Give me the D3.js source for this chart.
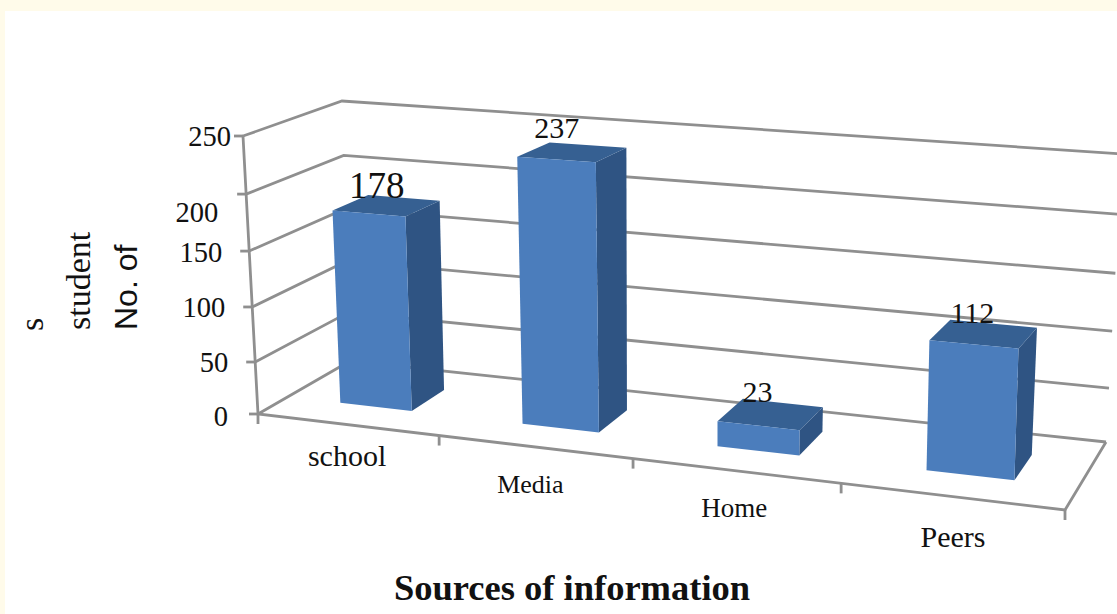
<!DOCTYPE html>
<html>
<head>
<meta charset="utf-8">
<script src="https://cdn.jsdelivr.net/npm/d3@7"></script>
<style>
  html, body { margin: 0; padding: 0; background: #fffbea; }
  svg { display: block; }
  text { font-family: "Liberation Serif", "Times New Roman", serif; fill: #111; }
</style>
</head>
<body>
<svg id="chart" width="1117" height="614"></svg>
<script>
// Chart data
const categories = ["school", "Media", "Home", "Peers"];
const counts = [178, 237, 23, 112];
const valueTicks = [0, 50, 100, 150, 200, 250];
const axisTitle = "Sources of information";
const valueTitleParts = ["No. of", "student", "s"];

// Plot box on screen: floor corners, plus wall height and lean at each corner
const floorQuad = { fl: [258, 414], fr: [1065, 510], bl: [350, 361], br: [1106, 442] };
const wallRise = { fl: 278, fr: 316, bl: 260, br: 288 };
const wallLean = { fl: -15, fr: 9, bl: -8, br: 16 };
// Fraction of the wall height reached at each value tick; spacing widens upward
const tickFractions = [0, 0.187, 0.385, 0.586, 0.791, 1];

// Perspective map of the unit square onto the floor quad
function quadMap(q) {
  const [x0, y0] = q.fl, [x1, y1] = q.fr, [x2, y2] = q.br, [x3, y3] = q.bl;
  const sx = x0 - x1 + x2 - x3, sy = y0 - y1 + y2 - y3;
  const dx1 = x1 - x2, dx2 = x3 - x2, dy1 = y1 - y2, dy2 = y3 - y2;
  const det = dx1 * dy2 - dy1 * dx2;
  const g = (sx * dy2 - sy * dx2) / det, h = (dx1 * sy - dy1 * sx) / det;
  const a = x1 - x0 + g * x1, b = x3 - x0 + h * x3;
  const d = y1 - y0 + g * y1, e = y3 - y0 + h * y3;
  const weight = (u, v) => g * u + h * v + 1;
  const map = (u, v) => {
    const w = weight(u, v);
    return [(a * u + b * v + x0) / w, (d * u + e * v + y0) / w];
  };
  return { map, weight };
}
const floor = quadMap(floorQuad);

// Interpolates a per-corner quantity with the same perspective division as the floor
function cornerField(c) {
  const n = {
    fl: c.fl * floor.weight(0, 0), fr: c.fr * floor.weight(1, 0),
    bl: c.bl * floor.weight(0, 1), br: c.br * floor.weight(1, 1)
  };
  return (u, v) => ((n.fl * (1 - u) + n.fr * u) * (1 - v) + (n.bl * (1 - u) + n.br * u) * v) / floor.weight(u, v);
}
const riseAt = cornerField(wallRise), leanAt = cornerField(wallLean);

// Scales: category to width fraction, value to height fraction
const xBand = d3.scaleBand().domain(categories).range([0, 1.004]).paddingInner(0.6).paddingOuter(0.3);
const xCat = d3.scaleBand().domain(categories).range([0, 1]);
const hScale = d3.scaleLinear().domain(valueTicks).range(tickFractions);
const depthFront = 0.31, depthBack = 0.69;

function project(u, v, value) {
  const t = hScale(value);
  const p = floor.map(u, v);
  return [p[0] + leanAt(u, v) * t, p[1] - riseAt(u, v) * t];
}

const svg = d3.select("#chart");
const line = d3.line();
const poly = pts => line(pts) + "Z";

// Page panel
svg.append("rect").attr("x", 5).attr("y", 11).attr("width", 1112).attr("height", 603).attr("fill", "#fff");

// Wall and floor gridlines
const gridColor = "#8f8f8f";
const grid = svg.append("g").attr("fill", "none").attr("stroke", gridColor).attr("stroke-width", 2.8);
valueTicks.forEach(v => {
  grid.append("path").attr("d", line([project(0, 0, v), project(0, 1, v), project(1, 1, v)]));
});
grid.append("path").attr("d", line([project(1, 1, 0), project(1, 0, 0), project(0, 0, 0), project(0, 0, 250)]));

// Axis tick marks
valueTicks.forEach(v => {
  const p = project(0, 0, v);
  grid.append("path").attr("d", line([[p[0] - 9, p[1]], p]));
});
d3.range(0, categories.length + 1).forEach(i => {
  const p = project(i / categories.length, 0, 0);
  grid.append("path").attr("d", line([p, [p[0], p[1] + 10]]));
});

// Bars: side, top, then front face
const faceColors = { front: "#4b7dbc", side: "#2f5483", top: "#366092" };
const bars = svg.append("g").selectAll("g").data(categories).join("g");
bars.each(function (c, i) {
  const g = d3.select(this);
  const u0 = xBand(c), u1 = u0 + xBand.bandwidth(), val = counts[i];
  g.append("path").attr("fill", faceColors.side)
    .attr("d", poly([project(u1, depthFront, 0), project(u1, depthBack, 0), project(u1, depthBack, val), project(u1, depthFront, val)]));
  g.append("path").attr("fill", faceColors.top)
    .attr("d", poly([project(u0, depthFront, val), project(u1, depthFront, val), project(u1, depthBack, val), project(u0, depthBack, val)]));
  g.append("path").attr("fill", faceColors.front)
    .attr("d", poly([project(u0, depthFront, 0), project(u1, depthFront, 0), project(u1, depthFront, val), project(u0, depthFront, val)]));
});

// Value labels sit near the middle of each bar's back top edge
const valueLabelStyle = [
  { size: 37, dx: -27, dy: 0 }, { size: 30, dx: -31, dy: -7 },
  { size: 30, dx: -25, dy: -1 }, { size: 30, dx: -21, dy: -1 }
];
svg.append("g").selectAll("text").data(counts).join("text")
  .attr("text-anchor", "middle")
  .attr("font-size", (d, i) => valueLabelStyle[i].size)
  .attr("transform", (d, i) => {
    const c = categories[i];
    const p = project(xBand(c) + xBand.bandwidth() / 2, depthBack, d);
    const s = valueLabelStyle[i];
    return `translate(${p[0] + s.dx},${p[1] + s.dy})`;
  })
  .text(d => d);

// Value axis labels
const tickNudges = [[-30, 12], [-27, 10], [-27, 10], [-27, 11], [-28, 28], [-12, 10]];
svg.append("g").selectAll("text").data(valueTicks).join("text")
  .attr("text-anchor", "end").attr("font-size", 28.5)
  .attr("x", (d, i) => project(0, 0, d)[0] + tickNudges[i][0])
  .attr("y", (d, i) => project(0, 0, d)[1] + tickNudges[i][1])
  .text(d => d);

// Category labels
const catLabelStyle = [
  { size: 30, dx: 0, dy: 41 }, { size: 26, dx: -4, dy: 46 },
  { size: 27, dx: -1, dy: 46 }, { size: 30, dx: 2, dy: 51 }
];
svg.append("g").selectAll("text").data(categories).join("text")
  .attr("text-anchor", "middle")
  .attr("font-size", (d, i) => catLabelStyle[i].size)
  .attr("transform", (d, i) => {
    const p = project(xCat(d) + xCat.bandwidth() / 2, 0, 0);
    const s = catLabelStyle[i];
    return `translate(${p[0] + s.dx},${p[1] + s.dy})`;
  })
  .text(d => d);

// Axis titles: the value title is broken over three rotated lines, the first in a sans face
svg.append("text").attr("x", 572).attr("y", 600).attr("text-anchor", "middle")
  .attr("font-size", 36.5).attr("font-weight", "bold").text(axisTitle);

const titleSlots = [[137, 330], [90, 330], [43, 331]];
svg.append("g").selectAll("text").data(valueTitleParts).join("text")
  .attr("font-size", (d, i) => i === 0 ? 32 : 34)
  .style("font-family", (d, i) => i === 0 ? '"Liberation Sans", Arial, sans-serif' : null)
  .attr("transform", (d, i) => `translate(${titleSlots[i][0]},${titleSlots[i][1]}) rotate(-90)`)
  .text(d => d);
</script>
</body>
</html>
